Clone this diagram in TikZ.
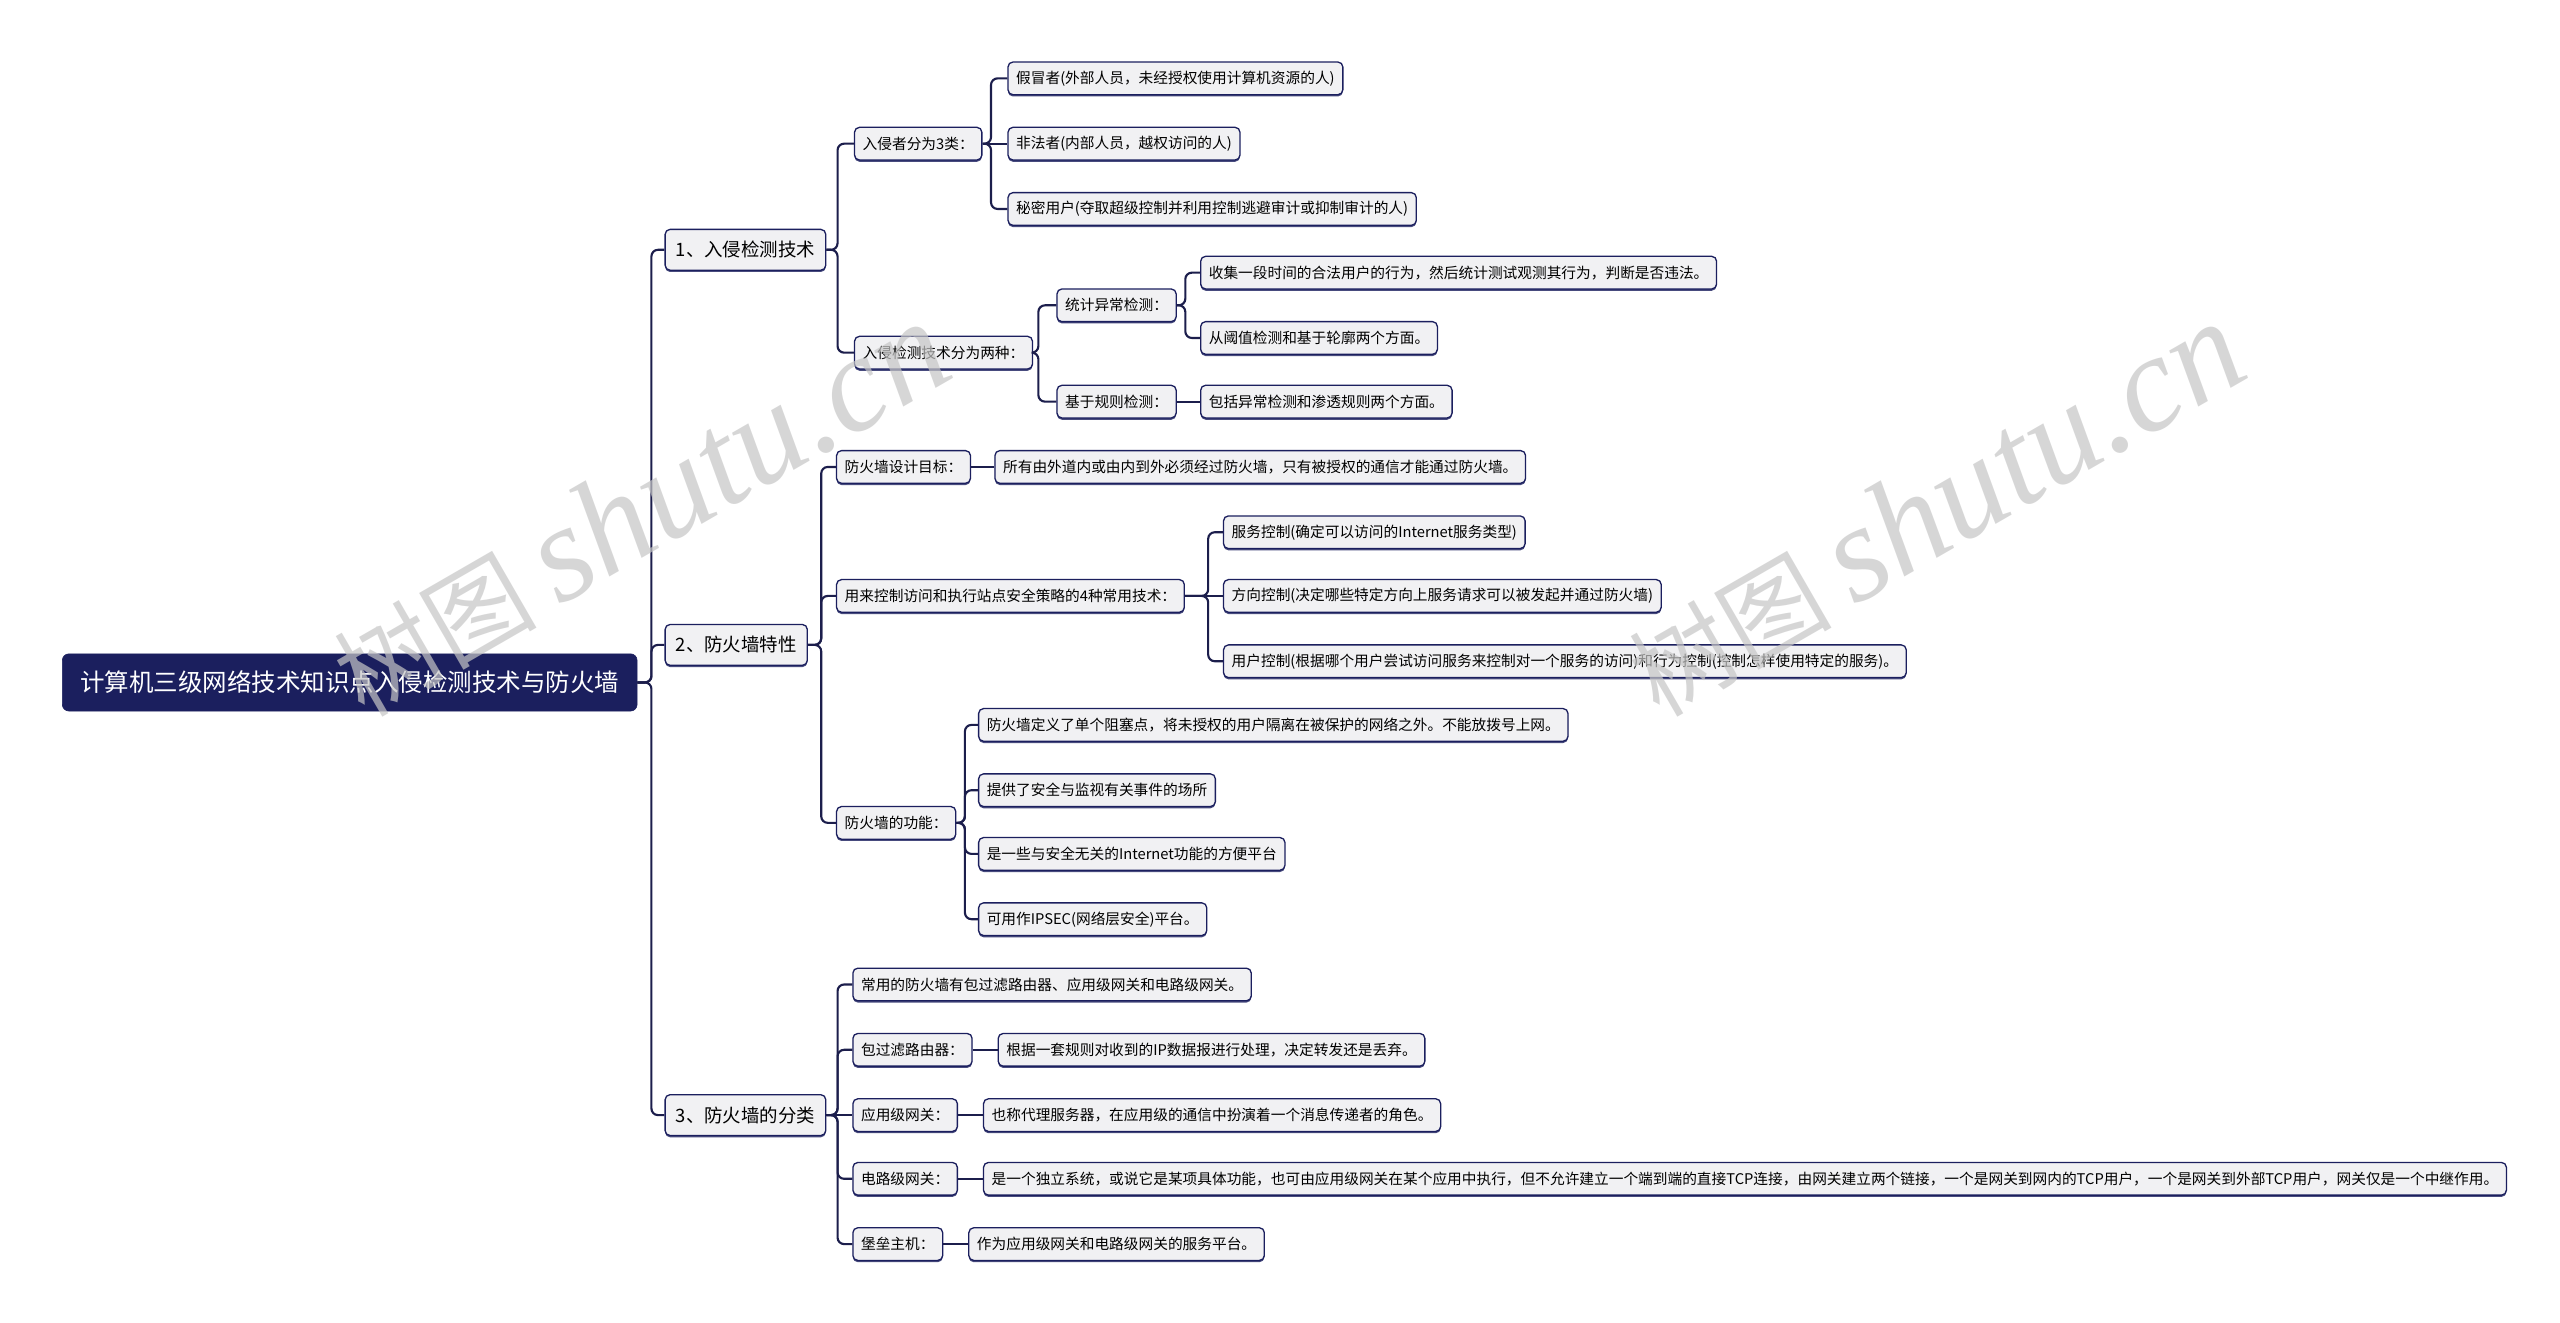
\documentclass[tikz,border=0pt]{standalone}
\usepackage{fontspec}
\setmainfont{Noto Sans CJK SC}
\newfontfamily\wmfont{Liberation Serif}
\usetikzlibrary{positioning, shadows}

\definecolor{navy}{HTML}{1B1F5E}
\definecolor{linknavy}{HTML}{1C1E4C}
\definecolor{boxgray}{HTML}{F1F1F3}

\begin{document}
\begin{tikzpicture}[
    x=1pt, y=-1pt,
    % Node styles
    basebox/.style={
        draw=navy, fill=boxgray, rounded corners=3pt, line width=0.8pt,
        anchor=west, align=left,
        drop shadow={shadow xshift=0pt, shadow yshift=-1.1pt, fill=navy, opacity=0.8}
    },
    rootbox/.style={
        draw=navy, fill=navy, text=white, rounded corners=4pt, anchor=west,
        minimum height=35pt, inner xsep=11pt,
        font=\fontsize{15}{18}\selectfont
    },
    topicbox/.style={basebox, minimum height=25pt, inner xsep=6.5pt,
        font=\fontsize{11.3}{14}\selectfont},
    leafbox/.style={basebox, minimum height=20pt, inner xsep=5pt,
        font=\fontsize{9}{11}\selectfont},
    % Connector style
    link/.style={draw=linknavy, line width=1.3pt, rounded corners=4pt},
    % Watermark style
    watermark/.style={text=gray!45, opacity=0.7, rotate=30,
        font=\fontsize{62}{70}\selectfont},
]

% ============================================================
% CANVAS (same proportions as the reference)
% ============================================================
\fill[white] (0,0) rectangle (1568,810.3);
\useasboundingbox (0,0) rectangle (1568,810.3);

% --- Root ---
\node[rootbox] (root) at (38,418) {计算机三级网络技术知识点入侵检测技术与防火墙};

% --- Main branches ---
\node[topicbox] (ids) at (407,153) {1、入侵检测技术};
\node[topicbox] (fw)  at (407,395) {2、防火墙特性};
\node[topicbox] (cls) at (407,683) {3、防火墙的分类};

% ============================================================
% BRANCH 1: intrusion detection
% ============================================================
\node[leafbox] (intr)    at (523,88)  {入侵者分为3类：};
\node[leafbox] (fake)    at (617,48)  {假冒者(外部人员，未经授权使用计算机资源的人)};
\node[leafbox] (illegal) at (617,88)  {非法者(内部人员，越权访问的人)};
\node[leafbox] (secret)  at (617,128) {秘密用户(夺取超级控制并利用控制逃避审计或抑制审计的人)};

\node[leafbox] (kinds)   at (523,216) {入侵检测技术分为两种：};
\node[leafbox] (stat)    at (647,187) {统计异常检测：};
\node[leafbox] (rule)    at (647,246) {基于规则检测：};
\node[leafbox] (collect) at (735,167) {收集一段时间的合法用户的行为，然后统计测试观测其行为，判断是否违法。};
\node[leafbox] (thresh)  at (735,207) {从阈值检测和基于轮廓两个方面。};
\node[leafbox] (incl)    at (735,246) {包括异常检测和渗透规则两个方面。};

% ============================================================
% BRANCH 2: firewall features
% ============================================================
\node[leafbox] (goal)    at (512,286) {防火墙设计目标：};
\node[leafbox] (goaltxt) at (609,286) {所有由外道内或由内到外必须经过防火墙，只有被授权的通信才能通过防火墙。};

\node[leafbox] (tech)    at (512,365) {用来控制访问和执行站点安全策略的4种常用技术：};
\node[leafbox] (svc)     at (749,326) {服务控制(确定可以访问的Internet服务类型)};
\node[leafbox] (dir)     at (749,365) {方向控制(决定哪些特定方向上服务请求可以被发起并通过防火墙)};
\node[leafbox] (usr)     at (749,405) {用户控制(根据哪个用户尝试访问服务来控制对一个服务的访问)和行为控制(控制怎样使用特定的服务)。};

\node[leafbox] (func)    at (512,504) {防火墙的功能：};
\node[leafbox] (fa)      at (599,444) {防火墙定义了单个阻塞点，将未授权的用户隔离在被保护的网络之外。不能放拨号上网。};
\node[leafbox] (fb)      at (599,484) {提供了安全与监视有关事件的场所};
\node[leafbox] (fc)      at (599,523) {是一些与安全无关的Internet功能的方便平台};
\node[leafbox] (fd)      at (599,563) {可用作IPSEC(网络层安全)平台。};

% ============================================================
% BRANCH 3: firewall types
% ============================================================
\node[leafbox] (common)  at (522,603) {常用的防火墙有包过滤路由器、应用级网关和电路级网关。};
\node[leafbox] (pkt)     at (522,643) {包过滤路由器：};
\node[leafbox] (pkttxt)  at (611,643) {根据一套规则对收到的IP数据报进行处理，决定转发还是丢弃。};
\node[leafbox] (app)     at (522,683) {应用级网关：};
\node[leafbox] (apptxt)  at (602,683) {也称代理服务器，在应用级的通信中扮演着一个消息传递者的角色。};
\node[leafbox] (circ)    at (522,722) {电路级网关：};
\node[leafbox] (circtxt) at (602,722) {是一个独立系统，或说它是某项具体功能，也可由应用级网关在某个应用中执行，但不允许建立一个端到端的直接TCP连接，由网关建立两个链接，一个是网关到网内的TCP用户，一个是网关到外部TCP用户，网关仅是一个中继作用。};
\node[leafbox] (bast)    at (522,762) {堡垒主机：};
\node[leafbox] (basttxt) at (593,762) {作为应用级网关和电路级网关的服务平台。};

% ============================================================
% CONNECTORS - elbow links, parent east to child west
% ============================================================

% Root -> main branches
\draw[link] (root.east) -| ([xshift=-8pt]ids.west) -- (ids.west);
\draw[link] (root.east) -| ([xshift=-8pt]fw.west)  -- (fw.west);
\draw[link] (root.east) -| ([xshift=-8pt]cls.west) -- (cls.west);

% Branch 1
\draw[link] (ids.east) -| ([xshift=-10pt]intr.west)  -- (intr.west);
\draw[link] (ids.east) -| ([xshift=-10pt]kinds.west) -- (kinds.west);
\draw[link] (intr.east) -| ([xshift=-10pt]fake.west) -- (fake.west);
\draw[link] (intr.east) -- (illegal.west);
\draw[link] (intr.east) -| ([xshift=-10pt]secret.west) -- (secret.west);
\draw[link] (kinds.east) -| ([xshift=-11pt]stat.west) -- (stat.west);
\draw[link] (kinds.east) -| ([xshift=-11pt]rule.west) -- (rule.west);
\draw[link] (stat.east) -| ([xshift=-9pt]collect.west) -- (collect.west);
\draw[link] (stat.east) -| ([xshift=-9pt]thresh.west)  -- (thresh.west);
\draw[link] (rule.east) -- (incl.west);

% Branch 2
\draw[link] (fw.east) -| ([xshift=-9pt]goal.west) -- (goal.west);
\draw[link] (fw.east) -| ([xshift=-9pt]tech.west) -- (tech.west);
\draw[link] (fw.east) -| ([xshift=-9pt]func.west) -- (func.west);
\draw[link] (goal.east) -- (goaltxt.west);
\draw[link] (tech.east) -| ([xshift=-9pt]svc.west) -- (svc.west);
\draw[link] (tech.east) -- (dir.west);
\draw[link] (tech.east) -| ([xshift=-9pt]usr.west) -- (usr.west);
\draw[link] (func.east) -| ([xshift=-8pt]fa.west) -- (fa.west);
\draw[link] (func.east) -| ([xshift=-8pt]fb.west) -- (fb.west);
\draw[link] (func.east) -| ([xshift=-8pt]fc.west) -- (fc.west);
\draw[link] (func.east) -| ([xshift=-8pt]fd.west) -- (fd.west);

% Branch 3
\draw[link] (cls.east) -| ([xshift=-9pt]common.west) -- (common.west);
\draw[link] (cls.east) -| ([xshift=-9pt]pkt.west)    -- (pkt.west);
\draw[link] (cls.east) -- (app.west);
\draw[link] (cls.east) -| ([xshift=-9pt]circ.west)   -- (circ.west);
\draw[link] (cls.east) -| ([xshift=-9pt]bast.west)   -- (bast.west);
\draw[link] (pkt.east)  -- (pkttxt.west);
\draw[link] (app.east)  -- (apptxt.west);
\draw[link] (circ.east) -- (circtxt.west);
\draw[link] (bast.east) -- (basttxt.west);

% ============================================================
% WATERMARKS
% ============================================================
\node[watermark] (wmleft)  at (392,312)
    {树图 {\wmfont\itshape\fontsize{84}{90}\selectfont shutu.cn}};
\node[watermark] (wmright) at (1185,312)
    {树图 {\wmfont\itshape\fontsize{84}{90}\selectfont shutu.cn}};

\end{tikzpicture}
\end{document}
